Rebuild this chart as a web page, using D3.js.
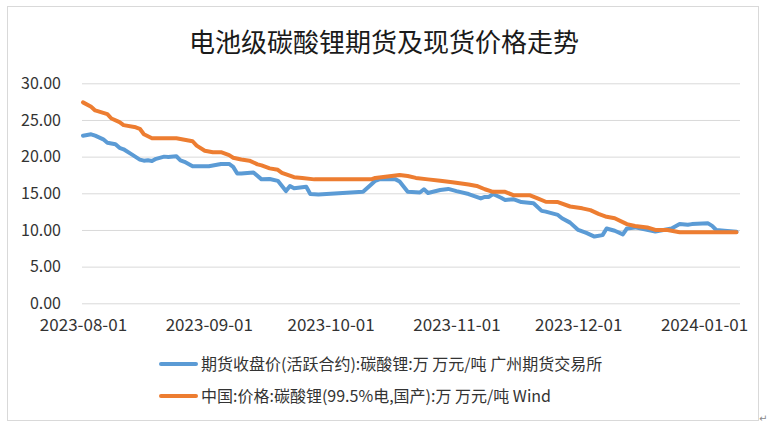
<!DOCTYPE html>
<html><head><meta charset="utf-8">
<script src="https://cdn.jsdelivr.net/npm/d3@7/dist/d3.min.js"></script>
<style>
html,body{margin:0;padding:0;background:#fff;}
svg{display:block;}
</style></head>
<body>
<svg id="chart" width="774" height="431"></svg>
<script>
// ---- data ----
const title = "电池级碳酸锂期货及现货价格走势";
const seriesNames = ["期货收盘价(活跃合约):碳酸锂:万 万元/吨 广州期货交易所", "中国:价格:碳酸锂(99.5%电,国产):万 万元/吨 Wind"];
const yTicks = [0, 5, 10, 15, 20, 25, 30];
const xTickLabels = ["2023-08-01", "2023-09-01", "2023-10-01", "2023-11-01", "2023-12-01", "2024-01-01"];
// day offsets from 2023-08-01 and values (万元/吨)
const futuresDays = [0,2,3,5,6,8,9,10,12,14,15,16,17,18,20,21,23,24,25,27,29,31,34,36,37,38,39,42,44,46,48,50,51,52,55,56,58,69,71,72,73,77,78,80,83,84,85,88,90,92,95,98,99,100,101,103,104,106,108,111,113,114,117,118,120,122,124,126,128,129,131,133,134,136,141,144,145,147,149,150,154,155,156,158,161];
const futuresVals = [22.86,23.05,22.86,22.36,21.9,21.7,21.2,21.0,20.3,19.6,19.45,19.5,19.4,19.7,20.0,19.95,20.05,19.5,19.3,18.7,18.7,18.7,19.0,19.0,18.6,17.7,17.7,17.85,16.9,16.95,16.7,15.3,16.0,15.7,15.9,14.9,14.85,15.2,16.2,16.7,16.9,16.9,16.6,15.2,15.1,15.55,15.05,15.45,15.6,15.3,14.9,14.3,14.5,14.5,14.9,14.4,14.1,14.2,13.8,13.65,12.6,12.5,12.05,11.6,11.0,10.0,9.6,9.1,9.3,10.2,9.9,9.4,10.2,10.35,9.8,10.1,10.2,10.8,10.7,10.8,10.9,10.55,10.0,9.9,9.75];
const spotDays = [0,2,3,6,7,9,10,13,14,15,17,23,27,28,30,32,34,36,37,39,41,43,44,46,48,49,52,54,57,71,72,75,78,80,82,85,88,91,95,97,99,101,104,106,110,112,114,117,120,123,125,127,129,131,134,136,139,141,144,147,161];
const spotVals = [27.4,26.8,26.3,25.8,25.2,24.7,24.3,24.0,23.8,23.05,22.5,22.5,22.1,21.5,20.8,20.6,20.6,20.2,19.85,19.6,19.45,18.95,18.8,18.4,18.2,17.8,17.2,17.1,16.9,16.9,17.1,17.3,17.5,17.35,17.1,16.9,16.7,16.5,16.2,16.0,15.55,15.2,15.2,14.75,14.75,14.3,13.85,13.8,13.2,12.95,12.7,12.2,11.8,11.6,10.8,10.55,10.35,10.0,10.0,9.7,9.7];
const colors = ["#5B9BD5", "#ED7D31"];

// ---- build ----
const start = new Date(2023, 7, 1);
const dayToDate = d => d3.timeDay.offset(start, d);
const parse = d3.timeParse("%Y-%m-%d");
const futures = futuresDays.map((d, i) => ({date: dayToDate(d), v: futuresVals[i]}));
const spot = spotDays.map((d, i) => ({date: dayToDate(d), v: spotVals[i]}));

const svg = d3.select("#chart");
const pLeft = 83, pRight = 736.5, pTop = 83.3, pBottom = 303.3;
const x = d3.scaleTime().domain([start, dayToDate(161)]).range([pLeft, pRight]);
const y = d3.scaleLinear().domain([0, 30]).range([pBottom, pTop]);

// border
svg.append("rect").attr("x", 7.5).attr("y", 6.5).attr("width", 751).attr("height", 414)
  .attr("fill", "#fff").attr("stroke", "#d9d9d9").attr("stroke-width", 1);

// title
svg.append("text").attr("x", 384).attr("y", 52).attr("text-anchor", "middle")
  .attr("font-family", "'Noto Sans CJK SC'").attr("font-size", 26).attr("fill", "#1a1a1a")
  .text(title);

// y axis with gridlines
const yAxis = svg.append("g").attr("transform", `translate(${pLeft - 1},0)`)
  .call(d3.axisLeft(y).tickValues(yTicks).tickFormat(d3.format(".2f"))
    .tickSize(-(740 - pLeft + 1)).tickPadding(21));
yAxis.select(".domain").remove();
yAxis.selectAll(".tick line").attr("stroke", "#d9d9d9").attr("stroke-width", 1);
yAxis.selectAll(".tick text").attr("font-family", "'Noto Sans CJK SC'").attr("font-size", 16).attr("fill", "#333");

// x axis labels
const xAxis = svg.append("g").attr("transform", `translate(0,${pBottom})`)
  .call(d3.axisBottom(x).tickValues(xTickLabels.map(parse)).tickFormat(d3.timeFormat("%Y-%m-%d"))
    .tickSize(0).tickPadding(16));
xAxis.select(".domain").remove();
xAxis.selectAll(".tick text").attr("font-family", "'Noto Sans CJK SC'").attr("font-size", 17).attr("fill", "#333");

// lines
const line = d3.line().x(d => x(d.date)).y(d => y(d.v));
svg.append("path").datum(futures).attr("d", line).attr("fill", "none")
  .attr("stroke", colors[0]).attr("stroke-width", 4).attr("stroke-linejoin", "round").attr("stroke-linecap", "round");
svg.append("path").datum(spot).attr("d", line).attr("fill", "none")
  .attr("stroke", colors[1]).attr("stroke-width", 4).attr("stroke-linejoin", "round").attr("stroke-linecap", "round");

// legend
const legY = [364, 396];
seriesNames.forEach((name, i) => {
  svg.append("line").attr("x1", 161).attr("x2", 196).attr("y1", legY[i]).attr("y2", legY[i])
    .attr("stroke", colors[i]).attr("stroke-width", 4).attr("stroke-linecap", "round");
  svg.append("text").attr("x", 201).attr("y", legY[i]).attr("dy", "0.35em")
    .attr("font-family", "'Noto Sans CJK SC'").attr("font-size", 16).attr("fill", "#333")
    .text(name);
});

// paragraph mark
svg.append("text").attr("x", 759).attr("y", 422).attr("font-family", "'DejaVu Sans'")
  .attr("font-size", 10).attr("fill", "#888").text("↵");
</script>
</body></html>
